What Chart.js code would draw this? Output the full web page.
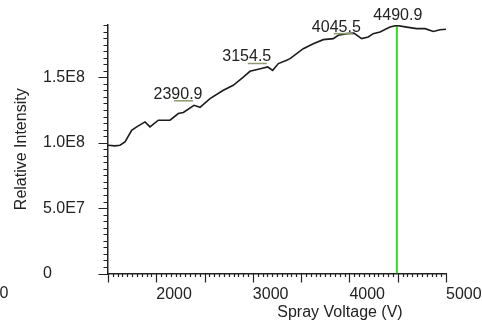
<!DOCTYPE html>
<html>
<head>
<meta charset="utf-8">
<script src="https://cdn.jsdelivr.net/npm/chart.js@4.4.1/dist/chart.umd.min.js"></script>
<style>
    html, body { margin: 0; padding: 0; background: #fff; }
</style>
</head>
<body>
<canvas id="v_chart" width="482" height="327"></canvas>
<script>
// spray voltage (V) and relative intensity
const voltage = [1500, 1572, 1624, 1676, 1745, 1797, 1883, 1935, 2021, 2142, 2228, 2280, 2390.9, 2453,
    2556, 2694, 2797, 2901, 2970, 3056, 3154.5, 3205, 3264, 3350, 3385, 3522, 3626, 3729, 3833, 3885,
    3972, 4045.5, 4127, 4195, 4246, 4317, 4420, 4490.9, 4593, 4696, 4783, 4869, 4938, 5000];
const intensity = [9.81e7, 9.76e7, 9.81e7, 1.006e8, 1.095e8, 1.121e8, 1.159e8, 1.121e8, 1.172e8, 1.172e8,
    1.223e8, 1.231e8, 1.286e8, 1.271e8, 1.337e8, 1.401e8, 1.439e8, 1.502e8, 1.546e8, 1.561e8, 1.579e8,
    1.553e8, 1.605e8, 1.630e8, 1.643e8, 1.719e8, 1.757e8, 1.788e8, 1.796e8, 1.821e8, 1.834e8, 1.838e8,
    1.796e8, 1.808e8, 1.834e8, 1.846e8, 1.884e8, 1.897e8, 1.884e8, 1.872e8, 1.872e8, 1.851e8, 1.864e8, 1.867e8];

const peakVoltages = [2390.9, 3154.5, 4045.5, 4490.9];
const peakLabels = ["2390.9", "3154.5", "4045.5", "4490.9"];
const maxVoltage = 4490.9;

const xTickValues = [2000, 3000, 4000, 5000];
const xTickLabels = ["2000", "3000", "4000", "5000"];
const yTickValues = [0, 5e7, 1e8, 1.5e8];
const yTickLabels = ["0", "5.0E7", "1.0E8", "1.5E8"];

const FONT = { family: "'Liberation Sans', Arial, sans-serif", size: 16 };
const INK = "#222";

const maxIntensity = intensity[voltage.indexOf(maxVoltage)];

// minor / major tick marks, peak labels and stray text
const decorations = {
    id: "decorations",
    afterDraw(chart) {
        const ctx = chart.ctx;
        const x = chart.scales.x, y = chart.scales.y;
        const area = chart.chartArea;
        ctx.save();
        ctx.strokeStyle = INK;
        ctx.lineWidth = 1.2;
        ctx.beginPath();
        x.ticks.forEach(t => {
            const v = Math.round(t.value);
            const px = Math.round(x.getPixelForValue(v)) + 0.5;
            const len = v % 500 === 0 ? 9 : 3.5;
            ctx.moveTo(px, area.bottom);
            ctx.lineTo(px, area.bottom + len);
        });
        y.ticks.forEach(t => {
            const v = Math.round(t.value);
            const py = Math.round(y.getPixelForValue(v)) + 0.5;
            const len = v % 5e7 === 0 ? 9.5 : 4.5;
            ctx.moveTo(area.left, py);
            ctx.lineTo(area.left - len, py);
        });
        ctx.stroke();

        // peak labels
        const shift = [[-16, -11], [-21, -10], [-17.5, -6], [1, -10]];
        ctx.font = FONT.size + "px " + FONT.family;
        ctx.textAlign = "center";
        ctx.textBaseline = "middle";
        peakVoltages.forEach((pv, i) => {
            const px = x.getPixelForValue(pv);
            const py = y.getPixelForValue(intensity[voltage.indexOf(pv)]);
            const tx = px + shift[i][0], ty = py + shift[i][1];
            ctx.fillStyle = INK;
            ctx.fillText(peakLabels[i], tx, ty);
            if (pv !== maxVoltage) {
                ctx.strokeStyle = "#8c9a70";
                ctx.lineWidth = 1.5;
                ctx.beginPath();
                ctx.moveTo(px - 20, ty + 6.5);
                ctx.lineTo(px - 1, ty + 6.5);
                ctx.stroke();
            }
        });

        // axis title (sits right of centre in the original) and the cut-off "0"
        ctx.fillStyle = INK;
        ctx.fillText("Spray Voltage (V)", (area.left + area.right) / 2 + 63, 313);
        ctx.textAlign = "right";
        ctx.fillText("0", 8.5, 294);
        ctx.restore();
    }
};

var ctx = document.getElementById("v_chart");
var chart = new Chart(ctx, {
    type: "line",
    data: {
        datasets: [{
            label: "Relative Intensity",
            data: voltage.map((v, i) => ({ x: v, y: intensity[i] })),
            borderColor: "#1c1c1c",
            borderWidth: 1.6,
            pointRadius: 0,
            tension: 0
        },
        {
            label: "Max",
            data: [{ x: maxVoltage, y: 0 }, { x: maxVoltage, y: maxIntensity }],
            borderColor: "#33dd22",
            borderWidth: 2,
            pointRadius: 0
        }]
    },
    options: {
        responsive: false,
        animation: false,
        layout: { padding: { left: 43, right: 36, top: 25, bottom: 0 } },
        plugins: {
            legend: { display: false },
            tooltip: { enabled: false }
        },
        scales: {
            x: {
                type: "linear",
                min: 1500,
                max: 5000,
                grid: { display: false, drawTicks: false },
                border: { display: true, color: INK, width: 1.5 },
                ticks: {
                    stepSize: 50,
                    autoSkip: false,
                    maxRotation: 0,
                    align: "start",
                    padding: 11,
                    color: INK,
                    font: FONT,
                    callback: v => {
                        const i = xTickValues.indexOf(Math.round(v));
                        return i >= 0 ? xTickLabels[i] : "";
                    }
                },
                afterFit: s => {
                    s.height = 53.5;
                    s.paddingLeft = 0;
                    s.paddingRight = 0;
                }
            },
            y: {
                type: "linear",
                min: 0,
                max: 1.9e8,
                grid: { display: false, drawTicks: false },
                border: { display: true, color: INK, width: 1.5 },
                ticks: {
                    stepSize: 5e6,
                    autoSkip: false,
                    crossAlign: "far",
                    color: INK,
                    font: FONT,
                    callback: v => {
                        const i = yTickValues.indexOf(Math.round(v));
                        return i >= 0 ? yTickLabels[i] : "";
                    }
                },
                title: {
                    display: true,
                    text: "Relative Intensity",
                    color: INK,
                    font: FONT,
                    padding: { top: -30.6, bottom: 0 }
                },
                afterFit: s => {
                    s.width = 65;
                    s.paddingTop = 0;
                    s.paddingBottom = 0;
                }
            }
        }
    },
    plugins: [decorations]
});
</script>
</body>
</html>
